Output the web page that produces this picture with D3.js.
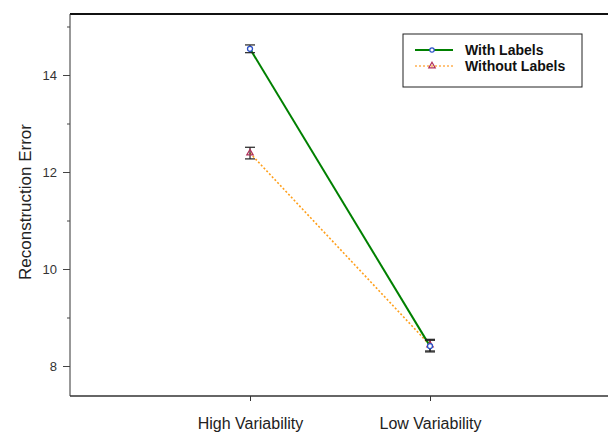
<!DOCTYPE html>
<html><head><meta charset="utf-8">
<script src="https://d3js.org/d3.v7.min.js"></script>
<style>body{margin:0;background:#fff;} svg{display:block;font-family:"Liberation Sans",Arial,sans-serif;}</style>
</head><body><svg id="c" width="608" height="435"></svg>
<script>
const categories = ["High Variability", "Low Variability"];
const withLabels = [14.54, 8.41];
const withLabelsErr = [0.08, 0.12];
const withoutLabels = [12.39, 8.43];
const withoutLabelsErr = [0.12, 0.12];
const seriesNames = ["With Labels", "Without Labels"];
const majorTicks = [8, 10, 12, 14];
const minorTicks = [9, 11, 13, 15];

const svg = d3.select("#c");
const L = 70, R = 610, T = 14, B = 396;
const x = d3.scaleLinear().domain([-1, 2]).range([L, R]);
const y = d3.scaleLinear().domain([8, 14]).range([366, 75]);

// frame: top and left/bottom
svg.append("line").attr("x1", L).attr("x2", 608).attr("y1", T).attr("y2", T).attr("stroke", "#111").attr("stroke-width", 2);
svg.append("line").attr("x1", L).attr("x2", L).attr("y1", T).attr("y2", B).attr("stroke", "#333").attr("stroke-width", 1);
svg.append("line").attr("x1", L).attr("x2", 608).attr("y1", B).attr("y2", B).attr("stroke", "#333").attr("stroke-width", 1.5);

// y axis
const yAxis = d3.axisLeft(y).tickValues(majorTicks).tickSize(7).tickPadding(6).tickFormat(d3.format("d"));
const gy = svg.append("g").attr("transform", `translate(${L},0)`).call(yAxis);
gy.select(".domain").remove();
gy.selectAll("line").attr("stroke", "#444");
gy.selectAll("text").attr("font-size", 13).attr("fill", "#333").attr("font-family", "Liberation Sans, Arial, sans-serif");
const yMinor = d3.axisLeft(y).tickValues(minorTicks).tickSize(3).tickFormat("");
const gym = svg.append("g").attr("transform", `translate(${L},0)`).call(yMinor);
gym.select(".domain").remove();
gym.selectAll("line").attr("stroke", "#444");

// x axis
const xAxis = d3.axisBottom(x).tickValues([0, 1]).tickSize(5).tickPadding(17).tickFormat(i => categories[i]);
const gx = svg.append("g").attr("transform", `translate(0,${B})`).call(xAxis);
gx.select(".domain").remove();
gx.selectAll("line").attr("stroke", "#333");
gx.selectAll("text").attr("font-size", 16).attr("fill", "#222").attr("font-family", "Liberation Sans, Arial, sans-serif");

// y title
svg.append("text").attr("transform", "translate(31,202) rotate(-90)").attr("text-anchor", "middle")
  .attr("font-size", 17).attr("fill", "#222").text("Reconstruction Error");

const idx = [0, 1];
const line = d3.line().x(d => x(d[0])).y(d => y(d[1]));

// lines
svg.append("path").datum(idx.map(i => [i, withoutLabels[i]])).attr("d", line)
  .attr("fill", "none").attr("stroke", "#ff9f1a").attr("stroke-width", 1.6).attr("stroke-dasharray", "2,2");
svg.append("path").datum(idx.map(i => [i, withLabels[i]])).attr("d", line)
  .attr("fill", "none").attr("stroke", "#008000").attr("stroke-width", 2);

// error bars
function errBars(vals, errs) {
  idx.forEach(i => {
    const cx = x(i), y1 = y(vals[i] + errs[i]), y2 = y(vals[i] - errs[i]);
    const g = svg.append("g").attr("stroke", "#222").attr("stroke-width", 1.2);
    g.append("line").attr("x1", cx).attr("x2", cx).attr("y1", y1).attr("y2", y2);
    g.append("line").attr("x1", cx - 5).attr("x2", cx + 5).attr("y1", y1).attr("y2", y1);
    g.append("line").attr("x1", cx - 5).attr("x2", cx + 5).attr("y1", y2).attr("y2", y2);
  });
}
errBars(withLabels, withLabelsErr);
errBars(withoutLabels, withoutLabelsErr);

// markers
const tri = d3.symbol().type(d3.symbolTriangle).size(18);
idx.forEach(i => {
  svg.append("path").attr("d", tri).attr("transform", `translate(${x(i)},${y(withoutLabels[i])})`)
    .attr("fill", "none").attr("stroke", "#b0305a").attr("stroke-width", 1.2);
  svg.append("circle").attr("cx", x(i)).attr("cy", y(withLabels[i])).attr("r", 2.5)
    .attr("fill", "#fff").attr("stroke", "#2a50c8").attr("stroke-width", 1.3);
});

// legend
const lg = svg.append("g");
lg.append("rect").attr("x", 403).attr("y", 34).attr("width", 179).attr("height", 53)
  .attr("fill", "#fff").attr("stroke", "#222").attr("stroke-width", 1);
lg.append("line").attr("x1", 415).attr("x2", 453).attr("y1", 50).attr("y2", 50).attr("stroke", "#008000").attr("stroke-width", 2);
lg.append("circle").attr("cx", 432).attr("cy", 50).attr("r", 2.2).attr("fill", "#fff").attr("stroke", "#2a50c8").attr("stroke-width", 1.2);
lg.append("line").attr("x1", 415).attr("x2", 453).attr("y1", 66).attr("y2", 66).attr("stroke", "#ffb050").attr("stroke-width", 1.3).attr("stroke-dasharray", "2,2");
lg.append("path").attr("d", tri).attr("transform", "translate(432,66)").attr("fill", "none").attr("stroke", "#b0305a").attr("stroke-width", 1.2);
lg.append("text").attr("x", 465).attr("y", 55).attr("font-size", 14).attr("font-weight", "bold").attr("fill", "#111").text(seriesNames[0]);
lg.append("text").attr("x", 465).attr("y", 71).attr("font-size", 14).attr("font-weight", "bold").attr("fill", "#111").text(seriesNames[1]);
</script></body></html>
